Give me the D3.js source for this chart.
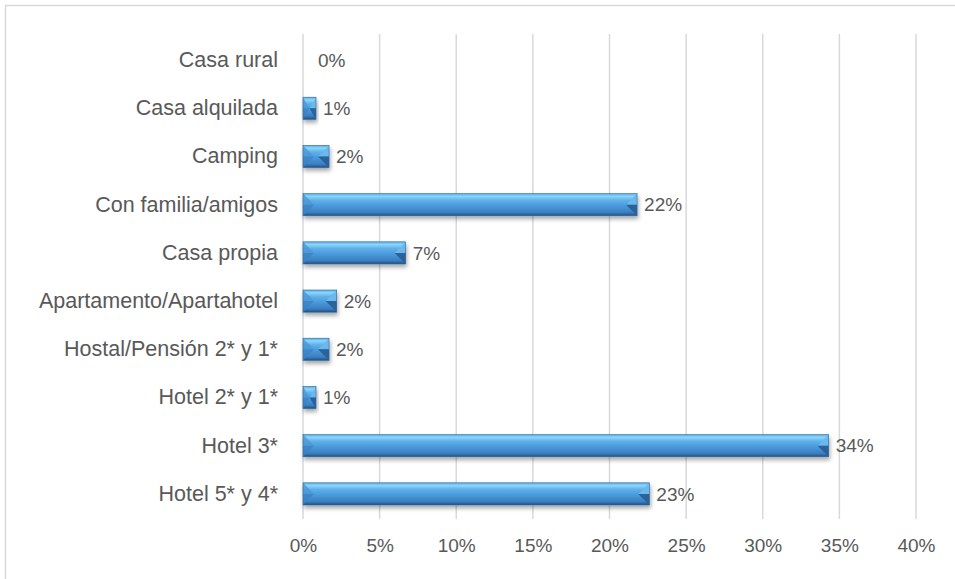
<!DOCTYPE html>
<html>
<head>
<meta charset="utf-8">
<script src="https://cdn.jsdelivr.net/npm/d3@7"></script>
<style>
  body { margin: 0; background: #fff; }
  text { font-family: "Liberation Sans", Arial, sans-serif; fill: #595959; }
</style>
</head>
<body>
<svg id="chart" width="955" height="579"></svg>
<script>
// categories top to bottom, values in percent
var categories = ["Casa rural", "Casa alquilada", "Camping", "Con familia/amigos", "Casa propia",
    "Apartamento/Apartahotel", "Hostal/Pensión 2* y 1*", "Hotel 2* y 1*", "Hotel 3*", "Hotel 5* y 4*"];
var values = [0, 0.85, 1.7, 21.8, 6.7, 2.2, 1.7, 0.85, 34.3, 22.6];
var tickValues = [0, 5, 10, 15, 20, 25, 30, 35, 40];

var svg = d3.select("#chart");

// outer frame (right / bottom edges fall outside the picture)
svg.append("rect")
    .attr("x", 5.5).attr("y", 5.5)
    .attr("width", 970).attr("height", 600)
    .attr("fill", "none").attr("stroke", "#d9d9d9").attr("stroke-width", 1.5);

var x = d3.scaleLinear().domain([0, 40]).range([303, 916]);
var y = d3.scaleBand().domain(categories).range([36, 518]).paddingInner(0.54).paddingOuter(0.27);

var defs = svg.append("defs");
var grad = defs.append("linearGradient").attr("id", "barGrad")
    .attr("x1", 0).attr("y1", 0).attr("x2", 0).attr("y2", 1);
[[0, "#5aaae6"], [0.12, "#8dd5fb"], [0.3, "#5eb0ea"], [0.6, "#4795d8"], [0.85, "#3a7fc0"], [1, "#1f4f7e"]]
    .forEach(function (s) { grad.append("stop").attr("offset", s[0]).attr("stop-color", s[1]); });

var shadow = defs.append("filter").attr("id", "shadow")
    .attr("x", "-10%").attr("y", "-30%").attr("width", "130%").attr("height", "180%");
shadow.append("feDropShadow").attr("dx", 1).attr("dy", 3).attr("stdDeviation", 2.2)
    .attr("flood-color", "#000").attr("flood-opacity", 0.35);

// gridlines
svg.append("g").selectAll("line")
    .data(tickValues)
    .enter().append("line")
    .attr("x1", function (d) { return x(d); })
    .attr("x2", function (d) { return x(d); })
    .attr("y1", 34).attr("y2", 519)
    .attr("stroke", "#d9d9d9").attr("stroke-width", 1.5);

// x axis labels
var xAxis = svg.append("g").attr("transform", "translate(0,519)")
    .call(d3.axisBottom(x).tickValues(tickValues).tickSize(0).tickPadding(20)
        .tickFormat(function (d) { return d + "%"; }));
xAxis.select(".domain").remove();
xAxis.selectAll("text").style("font-size", "19px").style("font-family", null).attr("fill", null);

// y axis labels
var yAxis = svg.append("g").attr("transform", "translate(303,0)")
    .call(d3.axisLeft(y).tickSize(0).tickPadding(25));
yAxis.select(".domain").remove();
yAxis.selectAll("text").style("font-size", "21.5px").style("font-family", null).attr("fill", null);

// bars
var bars = svg.append("g").selectAll("g.bar")
    .data(categories.map(function (c, i) { return { cat: c, val: values[i] }; }))
    .enter().append("g").attr("class", "bar")
    .attr("filter", "url(#shadow)");

bars.each(function (d) {
    if (d.val <= 0) return;
    var g = d3.select(this),
        x0 = x(0), x1 = x(d.val),
        y0 = y(d.cat), h = y.bandwidth(), y1 = y0 + h, ym = y0 + h / 2,
        b = Math.min(h / 2, (x1 - x0) / 2);
    g.append("rect").attr("x", x0).attr("y", y0).attr("width", x1 - x0).attr("height", h)
        .attr("fill", "url(#barGrad)");
    g.append("polygon").attr("points", [[x0, y0], [x0 + b, ym], [x0, ym]].join(" "))
        .attr("fill", "#4a97d8").attr("opacity", 0.8);
    g.append("polygon").attr("points", [[x0, ym], [x0 + b, ym], [x0, y1]].join(" "))
        .attr("fill", "#3d82c2").attr("opacity", 0.8);
    g.append("polygon").attr("points", [[x1, y0], [x1 - b, ym], [x1, ym]].join(" "))
        .attr("fill", "#6cb8ec");
    g.append("polygon").attr("points", [[x1, ym], [x1 - b, ym], [x1, y1]].join(" "))
        .attr("fill", "#2b6299");
    g.append("rect").attr("x", x0).attr("y", y0).attr("width", x1 - x0).attr("height", h)
        .attr("fill", "none").attr("stroke", "#2d6aa0").attr("stroke-width", 0.6);
});

// value labels
svg.append("g").selectAll("text")
    .data(values)
    .enter().append("text")
    .attr("x", function (d) { return x(d) + (d > 0 ? 7 : 15); })
    .attr("y", function (d, i) { return y(categories[i]) + y.bandwidth() / 2; })
    .attr("dy", "0.35em")
    .style("font-size", "19px")
    .text(function (d) { return d3.format(".0%")(d / 100); });
</script>
</body>
</html>
